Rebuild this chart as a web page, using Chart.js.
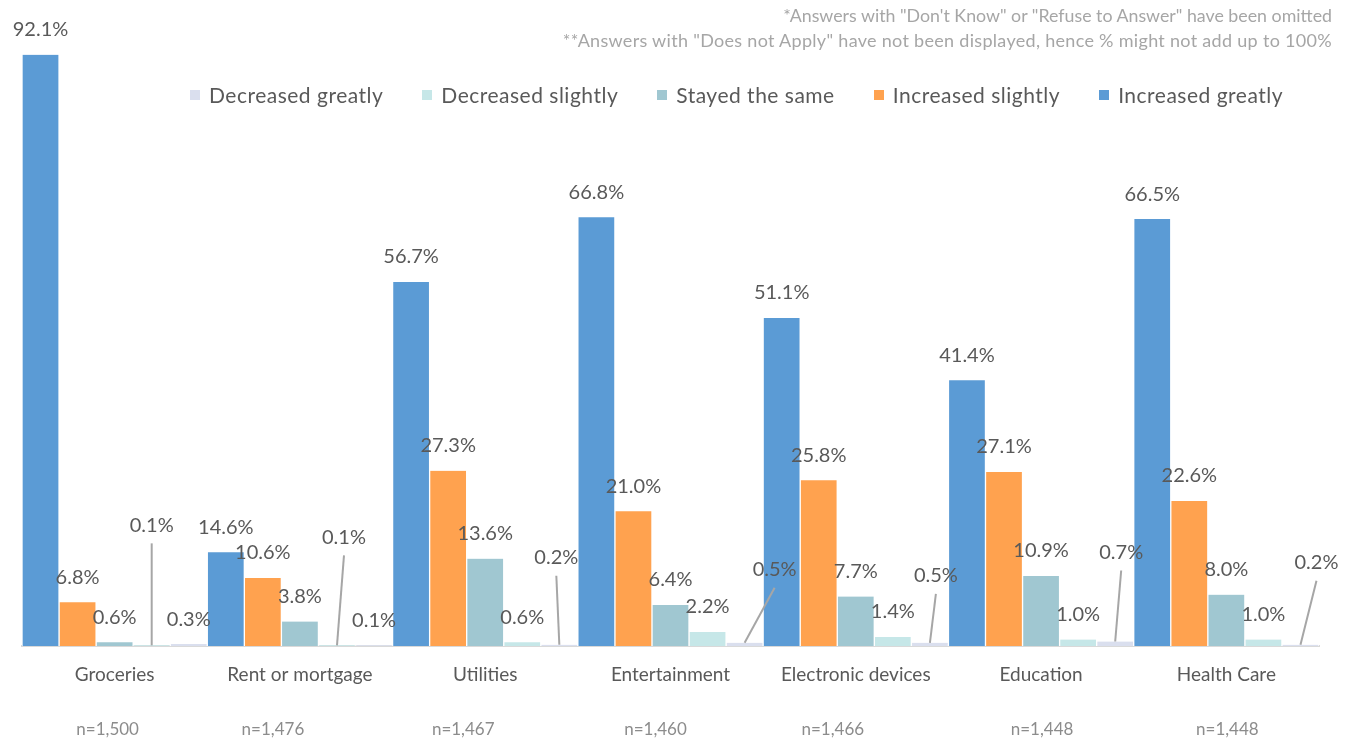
<!DOCTYPE html>
<html>
<head>
<meta charset="utf-8">
<script src="https://cdn.jsdelivr.net/npm/chart.js@4.4.1/dist/chart.umd.min.js"></script>
<style>
    html, body { margin: 0; padding: 0; background: #fff; }
    #wrap { position: relative; width: 1358px; height: 742px; font-family: "Lato", "Open Sans", sans-serif; }
    #chart { position: absolute; left: 0; top: 0; }
    .note { position: absolute; right: 26px; color: #a6a6a6; white-space: nowrap; }
    #legend { position: absolute; left: 190px; top: 82px; display: flex; font-size: 21px; letter-spacing: 0.5px; color: #595959; }
    #legend .item { display: flex; align-items: center; margin-right: 39px; white-space: nowrap; }
    #legend .box { width: 10px; height: 10px; margin-right: 9px; }
</style>
</head>
<body>
<div id="wrap">
    <canvas id="chart" width="1358" height="742"></canvas>
    <div class="note" style="top:4px; font-size:17.8px">*Answers with "Don't Know" or "Refuse to Answer" have been omitted</div>
    <div class="note" style="top:29px; font-size:18px; letter-spacing:0.3px">**Answers with "Does not Apply" have not been displayed, hence % might not add up to 100%</div>
    <div id="legend"></div>
</div>
<script>
// === data ===
const categories = ["Groceries", "Rent or mortgage", "Utilities", "Entertainment", "Electronic devices", "Education", "Health Care"];
const sampleSizes = ["n=1,500", "n=1,476", "n=1,467", "n=1,460", "n=1,466", "n=1,448", "n=1,448"];

const increasedGreatly  = [92.1, 14.6, 56.7, 66.8, 51.1, 41.4, 66.5];
const increasedSlightly = [6.8, 10.6, 27.3, 21.0, 25.8, 27.1, 22.6];
const stayedSame        = [0.6, 3.8, 13.6, 6.4, 7.7, 10.9, 8.0];
const decreasedSlightly = [0.1, 0.1, 0.6, 2.2, 1.4, 1.0, 1.0];
const decreasedGreatly  = [0.3, 0.1, 0.2, 0.5, 0.5, 0.7, 0.2];

const series = [
    { label: "Increased greatly",  data: increasedGreatly,  color: "#5b9bd5" },
    { label: "Increased slightly", data: increasedSlightly, color: "#ffa24f" },
    { label: "Stayed the same",    data: stayedSame,        color: "#a0c7d1" },
    { label: "Decreased slightly", data: decreasedSlightly, color: "#c6e7e8" },
    { label: "Decreased greatly",  data: decreasedGreatly,  color: "#dadfee" },
];

// labels for the tiny bars are pulled up and joined back with a leader line
// key: "dataset-index" -> [dx, dy] from the bar top
const labelMoves = {
    "3-0": [0, -120],
    "3-1": [7, -108],
    "4-2": [-3, -87],
    "4-3": [30, -73],
    "4-4": [6, -67],
    "4-5": [6, -89],
    "4-6": [16, -82],
};

// the n= text boxes sit a little off the category centres
const sampleShift = [-7, -27, -22, -15, -23, 1, 1];

// === legend (reverse order) ===
const legendEl = document.getElementById("legend");
series.slice().reverse().forEach(s => {
    const item = document.createElement("div");
    item.className = "item";
    const box = document.createElement("span");
    box.className = "box";
    box.style.background = s.color;
    const txt = document.createElement("span");
    txt.textContent = s.label;
    item.appendChild(box);
    item.appendChild(txt);
    legendEl.appendChild(item);
});

// === value labels ===
const valueLabels = {
    id: "valueLabels",
    afterDatasetsDraw(chart) {
        const ctx = chart.ctx;
        ctx.save();
        ctx.font = '20px "Lato", sans-serif';
        ctx.fillStyle = "#595959";
        ctx.textAlign = "center";
        ctx.textBaseline = "middle";
        chart.data.datasets.forEach((ds, d) => {
            const meta = chart.getDatasetMeta(d);
            meta.data.forEach((bar, i) => {
                const text = ds.data[i].toFixed(1) + "%";
                const move = labelMoves[d + "-" + i];
                if (move) {
                    const lx = bar.x + move[0];
                    const ly = bar.y + move[1];
                    ctx.strokeStyle = "#a6a6a6";
                    ctx.lineWidth = 2;
                    ctx.beginPath();
                    ctx.moveTo(lx, ly + 18);
                    ctx.lineTo(bar.x, bar.y);
                    ctx.stroke();
                    ctx.fillText(text, lx, ly);
                } else {
                    ctx.fillText(text, bar.x, bar.y - 25);
                }
            });
        });
        ctx.restore();
    }
};

// === sample sizes under the category names ===
const sampleLabels = {
    id: "sampleLabels",
    afterDraw(chart) {
        const ctx = chart.ctx;
        const xScale = chart.scales.x;
        ctx.save();
        ctx.font = '17px "Lato", sans-serif';
        ctx.fillStyle = "#8c8c8c";
        ctx.textAlign = "center";
        ctx.textBaseline = "middle";
        sampleSizes.forEach((t, i) => {
            ctx.fillText(t, xScale.getPixelForValue(i) + sampleShift[i], 730);
        });
        ctx.restore();
    }
};

const ctx = document.getElementById("chart").getContext("2d");
new Chart(ctx, {
    type: "bar",
    data: {
        labels: categories,
        datasets: series.map(s => ({
            label: s.label,
            data: s.data,
            backgroundColor: s.color,
            borderColor: "#ffffff",
            borderWidth: { left: 1, right: 1, top: 0, bottom: 0 },
            borderSkipped: false,
            categoryPercentage: 1,
            barPercentage: 1,
        }))
    },
    options: {
        responsive: false,
        animation: false,
        layout: { padding: { top: 4, left: 22, right: 39, bottom: 36 } },
        scales: {
            y: { display: false, min: 0, max: 100 },
            x: {
                grid: { display: false, drawTicks: false },
                border: { display: true, color: "#d9d9d9", width: 2 },
                ticks: { color: "#595959", font: { family: "Lato", size: 19 }, padding: 17, maxRotation: 0 },
                afterFit: scale => { scale.height = 60; },
            }
        },
        plugins: {
            legend: { display: false },
            tooltip: { enabled: false }
        }
    },
    plugins: [valueLabels, sampleLabels]
});
</script>
</body>
</html>
